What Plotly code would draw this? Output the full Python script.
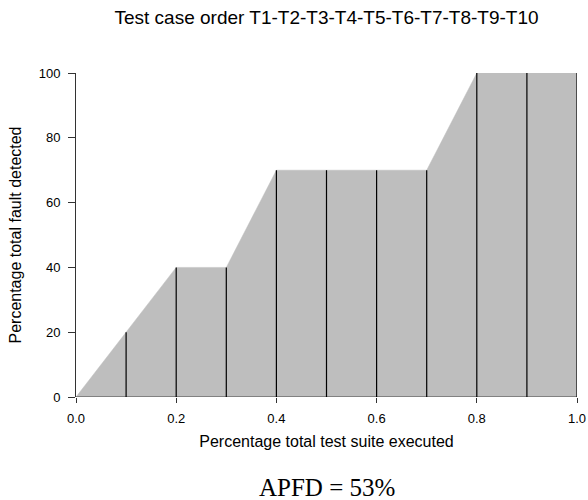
import plotly.graph_objects as go

x_frac = [0.0, 0.1, 0.2, 0.3, 0.4, 0.5, 0.6, 0.7, 0.8, 0.9, 1.0]
faults = [0, 20, 40, 40, 70, 70, 70, 70, 100, 100, 100]
x_ticks = [0.0, 0.2, 0.4, 0.6, 0.8, 1.0]
x_tick_text = ["0.0", "0.2", "0.4", "0.6", "0.8", "1.0"]
y_ticks = [0, 20, 40, 60, 80, 100]
title = "Test case order T1-T2-T3-T4-T5-T6-T7-T8-T9-T10"
apfd_text = "APFD = 53%"

W, H = 588, 500
L, R, T, B = 76, 11, 73, 103

fig = go.Figure()

# filled area polygon
poly_x = x_frac + [x_frac[-1], x_frac[0]]
poly_y = faults + [0, 0]
fig.add_trace(go.Scatter(x=poly_x, y=poly_y, fill="toself", fillcolor="#bebebe",
                         mode="lines", line=dict(color="#bebebe", width=0.5),
                         hoverinfo="skip", showlegend=False))

# bottom edge
fig.add_trace(go.Scatter(x=[x_frac[0], x_frac[-1]], y=[0, 0], mode="lines",
                         line=dict(color="#444444", width=1),
                         hoverinfo="skip", showlegend=False))

# vertical lines at each test case
vx, vy = [], []
for xv, yv in zip(x_frac[1:], faults[1:]):
    vx += [xv, xv, None]
    vy += [0, yv, None]
fig.add_trace(go.Scatter(x=vx, y=vy, mode="lines", line=dict(color="black", width=1.2),
                         hoverinfo="skip", showlegend=False, cliponaxis=False))

fig.update_layout(
    width=W, height=H,
    margin=dict(l=L, r=R, t=T, b=B, autoexpand=False),
    paper_bgcolor="white", plot_bgcolor="white",
    font=dict(family="Liberation Sans, Arial", size=13, color="black"),
    title=dict(text=title, x=(L + (W - L - R) / 2) / W, xanchor="center",
               y=1 - 17 / H, yanchor="middle",
               font=dict(size=19, family="Liberation Sans, Arial", color="black")),
    xaxis=dict(range=[0, 1], tickvals=x_ticks, ticktext=x_tick_text, ticks="outside",
               ticklen=5, tickcolor="#333333", showline=False, showgrid=False, zeroline=False,
               automargin=False, ticklabelstandoff=4,
               title=dict(text="Percentage total test suite executed", standoff=11,
                          font=dict(size=16)),
               fixedrange=True),
    yaxis=dict(range=[0, 100], tickvals=y_ticks, ticks="outside", ticklen=7,
               tickcolor="#333333", showline=True, linecolor="#333333", linewidth=1,
               showgrid=False, zeroline=False, automargin=False, ticklabelstandoff=5,
               title=dict(text="Percentage total fault detected", standoff=13,
                          font=dict(size=16)),
               fixedrange=True),
    annotations=[dict(text=apfd_text, xref="paper", yref="paper", x=0.5, y=-0.278,
                      xanchor="center", yanchor="middle", showarrow=False,
                      font=dict(family="Liberation Serif, Times New Roman", size=25,
                                color="black"))],
)

fig.write_html("out.html",
               config={"displayModeBar": False, "staticPlot": True},
               post_script="document.body.style.margin='0';"
                           "document.body.style.overflow='hidden';")
